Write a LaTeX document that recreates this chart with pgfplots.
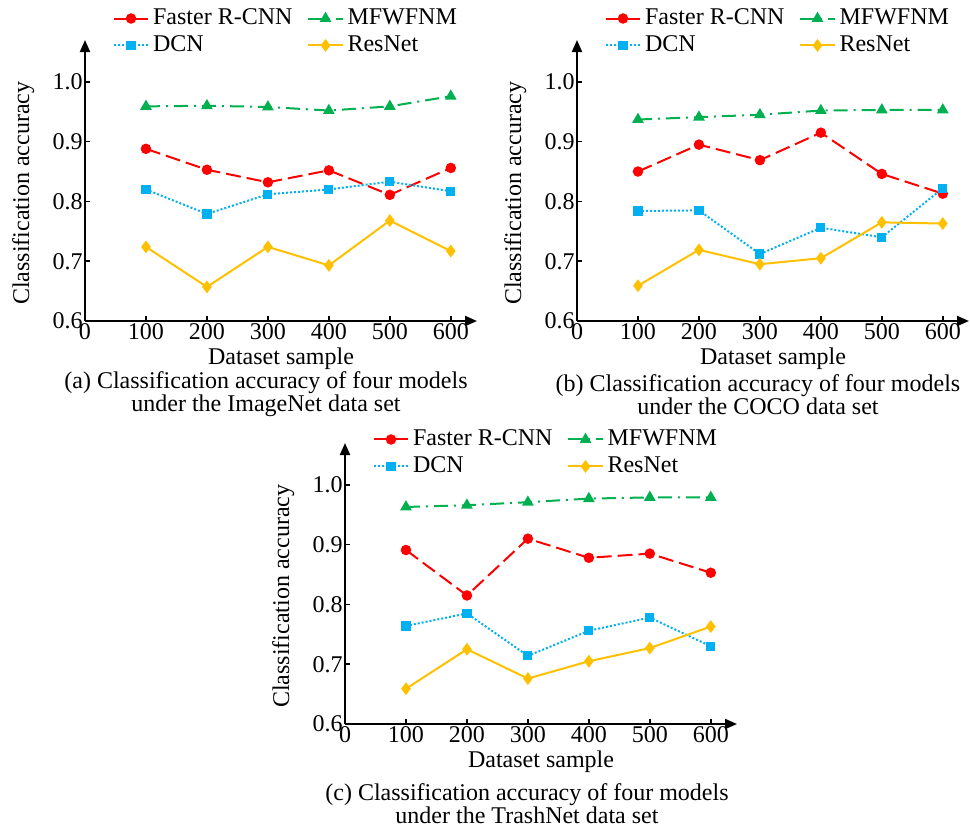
\documentclass[border=0pt]{standalone}
\usepackage{fontspec}
\setmainfont{Liberation Serif}
\usepackage{pgfplots}
\usepackage{pgfplotstable}
\pgfplotsset{compat=1.18}
\usetikzlibrary{arrows.meta}

\definecolor{cRed}{RGB}{255,0,0}
\definecolor{cGreen}{RGB}{0,176,80}
\definecolor{cBlue}{RGB}{0,176,240}
\definecolor{cGold}{RGB}{255,192,0}

% accuracy per sample size: ImageNet, COCO, TrashNet
\pgfplotstableread{
n   frcnn  mfwfnm dcn   resnet
100 0.888  0.959  0.820 0.724
200 0.853  0.960  0.779 0.657
300 0.832  0.958  0.812 0.724
400 0.852  0.952  0.820 0.693
500 0.811  0.959  0.833 0.768
600 0.856  0.976  0.817 0.717
}\imagenet
\pgfplotstableread{
n   frcnn  mfwfnm dcn   resnet
100 0.850  0.937  0.784 0.659
200 0.895  0.941  0.785 0.719
300 0.869  0.945  0.712 0.695
400 0.915  0.952  0.756 0.705
500 0.846  0.953  0.740 0.765
600 0.813  0.953  0.822 0.763
}\coco
\pgfplotstableread{
n   frcnn  mfwfnm dcn   resnet
100 0.891  0.963  0.764 0.659
200 0.815  0.966  0.785 0.725
300 0.910  0.971  0.714 0.676
400 0.878  0.977  0.756 0.705
500 0.885  0.979  0.778 0.727
600 0.853  0.979  0.730 0.763
}\trashnet

\pgfplotsset{
  accplot/.style={
    scale only axis, width=196pt, height=140.5pt,
    xmin=0, xmax=643, ymin=0.6, ymax=1.070,
    axis lines=left,
    axis line style={line width=1pt, -{Triangle[length=6pt,width=5pt]}},
    xtick={0,100,...,600}, ytick={0.6,0.7,0.8,0.9,1.0},
    yticklabel style={inner sep=1pt, /pgf/number format/fixed,
      /pgf/number format/fixed zerofill, /pgf/number format/precision=1},
    /pgf/number format/assume math mode=true,
    tick align=inside, major tick length=2.5pt,
    tick style={line width=0.8pt, black},
    xticklabel style={inner sep=1pt},
    xlabel={Dataset sample}, ylabel={Classification accuracy},
    xlabel style={inner sep=0pt, yshift=-3pt},
    ylabel style={at={(ticklabel cs:0.455)}, inner sep=1pt, yshift=7pt},
    legend columns=2, legend cell align=left,
    legend style={draw=none, fill=none, at={(0.055,1.14)}, anchor=north west,
      /tikz/every even column/.append style={column sep=5.5pt}},
    clip=false,
  },
  frc/.style={cRed, line width=1pt, dash pattern=on 7.5pt off 3pt,
    mark=*, mark size=2.1pt, mark options={solid, fill=cRed}},
  mfw/.style={cGreen, line width=1pt, dash pattern=on 7pt off 3pt on 1pt off 3pt,
    mark=triangle*, mark size=2.4pt, mark options={solid, fill=cGreen}},
  dcnst/.style={cBlue, line width=1pt, dash pattern=on 1pt off 1pt,
    mark=square*, mark size=1.8pt, mark options={solid, fill=cBlue}},
  rsn/.style={cGold, line width=1pt, solid,
    mark=diamond*, mark size=2.4pt, mark options={solid, fill=cGold}},
}

\newcommand{\fourmodels}[1]{%
  \addplot[frc] table[x=n, y=frcnn] {#1};
  \addplot[mfw] table[x=n, y=mfwfnm] {#1};
  \addplot[dcnst] table[x=n, y=dcn] {#1};
  \addplot[rsn] table[x=n, y=resnet] {#1};
  \legend{Faster R-CNN, MFWFNM, DCN, ResNet}
}

\begin{document}
\begin{tikzpicture}[font=\fontsize{12}{13}\selectfont]
\useasboundingbox (0,0) rectangle (485pt,-414.5pt);

\begin{axis}[accplot, at={(42.5pt,-160.5pt)}, anchor=south west]
  \fourmodels{\imagenet}
\end{axis}
\node[align=center, inner sep=0pt, font=\fontsize{12}{11.5}\selectfont] at (133pt,-197.25pt)
  {(a) Classification accuracy of four models\\under the ImageNet data set};

\begin{axis}[accplot, at={(288.5pt,-160.5pt)}, anchor=south west]
  \fourmodels{\coco}
\end{axis}
\node[align=center, inner sep=0pt, font=\fontsize{12}{11.5}\selectfont] at (379pt,-197.25pt)
  {(b) Classification accuracy of four models\\under the COCO data set};

\begin{axis}[accplot, at={(172.5pt,-362pt)}, anchor=south west,
  legend style={at={(0.055,1.076)}}]
  \fourmodels{\trashnet}
\end{axis}
\node[align=center, inner sep=0pt, font=\fontsize{12}{11.5}\selectfont] at (263.5pt,-401.75pt)
  {(c) Classification accuracy of four models\\under the TrashNet data set};
\end{tikzpicture}
\end{document}
